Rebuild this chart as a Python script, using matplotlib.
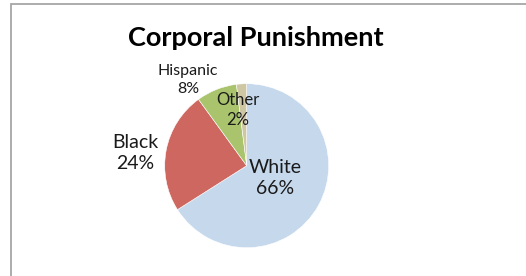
import matplotlib
matplotlib.use("Agg")
import matplotlib.pyplot as plt
from matplotlib.patches import Rectangle

categories = ["White", "Black", "Hispanic", "Other"]
values = [66, 24, 8, 2]
colors = ["#C6D8EC", "#CD6760", "#A9C46C", "#CFC7A4"]

plt.rcParams['font.family'] = ['Lato', 'DejaVu Sans']

W, H = 526, 276
fig = plt.figure(figsize=(W / 100, H / 100), dpi=100)

# outer chart border
fig.patches.append(Rectangle((11 / W, -0.1), 1.2, (H - 4) / H + 0.1, transform=fig.transFigure,
                             fill=False, edgecolor="#A6A6A6", linewidth=1.3))

cx, cy, r = 246.7, 165.7, 82
ax = fig.add_axes([(cx - r) / W, (H - cy - r) / H, 2 * r / W, 2 * r / H])
ax.pie(values, colors=colors, startangle=90, counterclock=False,
       wedgeprops=dict(edgecolor="white", linewidth=0.4))
ax.set_xlim(-1, 1)
ax.set_ylim(-1, 1)
ax.set_aspect("auto")
ax.axis("off")

label_pos = [(0.345, -0.15), (-1.36, 0.155), (-0.716, 1.045), (-0.106, 0.68)]
label_size = [14, 14, 11.5, 12]
for cat, v, (x, y), s in zip(categories, values, label_pos, label_size):
    ax.text(x, y, f"{cat}\n{v}%", ha="center", va="center", fontsize=s,
            color="#1a1a1a", linespacing=1.35)

fig.text(256 / W, 1 - 38 / H, "Corporal Punishment", ha="center", va="center",
         fontsize=19.5, fontweight="bold", color="black")

fig.savefig("out.png", dpi=100)
